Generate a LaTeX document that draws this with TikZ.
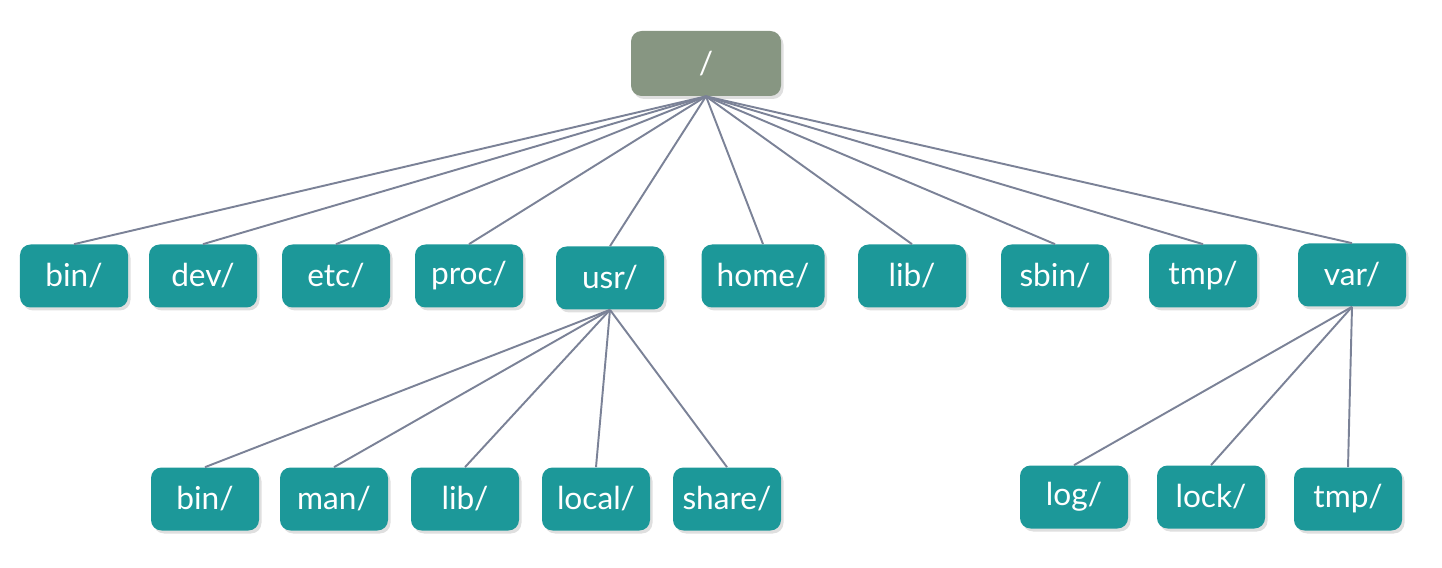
\documentclass[tikz,border=0pt]{standalone}
\usepackage{fontspec}
\setmainfont{Lato}
\usepackage{tikz}
\usetikzlibrary{positioning, shadows}
\definecolor{Teal} {HTML}{1C9899}
\definecolor{Sage} {HTML}{879682}
\definecolor{Edge} {HTML}{7B8297}
\tikzset{
  dir/.style={fill=Teal, rounded corners=6pt, text=white, align=center,
              font=\fontsize{18}{21}\selectfont,
              minimum height=1.26cm, minimum width=2.16cm,
              drop shadow={shadow xshift=0.05cm, shadow yshift=-0.06cm, opacity=0.25}},
  edge/.style={draw=Edge, line width=1.1pt}
}

\begin{document}
\begin{tikzpicture}
  \useasboundingbox (0,0) rectangle (28.84,11.34);
  \node[dir,fill=Sage,minimum width=3cm,minimum height=1.3cm] (root) at (14.12,10.07) {/};
  % first level
  \node[dir] (bin)  at (1.48,5.82)  {bin/};
  \node[dir] (dev)  at (4.06,5.82)  {dev/};
  \node[dir] (etc)  at (6.72,5.82)  {etc/};
  \node[dir] (proc) at (9.38,5.82)  {proc/};
  \node[dir] (usr)  at (12.20,5.78) {usr/};
  \node[dir,minimum width=2.46cm] (home) at (15.26,5.82) {home/};
  \node[dir] (lib)  at (18.24,5.82) {lib/};
  \node[dir] (sbin) at (21.10,5.82) {sbin/};
  \node[dir] (tmp)  at (24.06,5.82) {tmp/};
  \node[dir] (var)  at (27.04,5.84) {var/};
  % under usr/
  \node[dir] (ubin)   at (4.10,1.36)  {bin/};
  \node[dir] (uman)   at (6.68,1.36)  {man/};
  \node[dir] (ulib)   at (9.30,1.36)  {lib/};
  \node[dir] (ulocal) at (11.92,1.36) {local/};
  \node[dir] (ushare) at (14.54,1.36) {share/};
  % under var/
  \node[dir] (vlog)  at (21.48,1.40) {log/};
  \node[dir] (vlock) at (24.22,1.40) {lock/};
  \node[dir] (vtmp)  at (26.96,1.36) {tmp/};
  \foreach \c in {bin,dev,etc,proc,usr,home,lib,sbin,tmp,var}
    \draw[edge] (root.south) -- (\c.north);
  \foreach \c in {ubin,uman,ulib,ulocal,ushare}
    \draw[edge] (usr.south) -- (\c.north);
  \foreach \c in {vlog,vlock,vtmp}
    \draw[edge] (var.south) -- (\c.north);
\end{tikzpicture}
\end{document}
